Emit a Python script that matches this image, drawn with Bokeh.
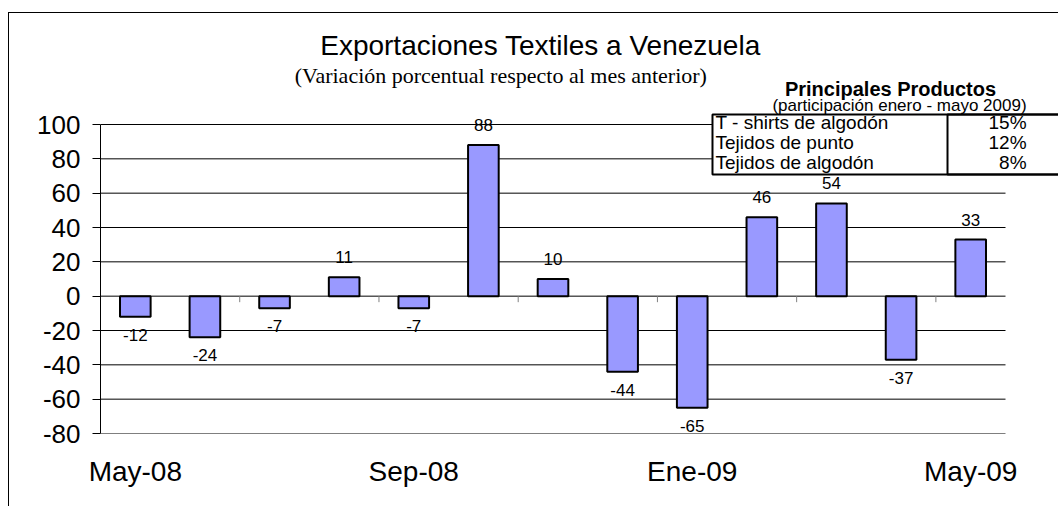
from bokeh.plotting import figure
from bokeh.models import ColumnDataSource, FixedTicker, Label, BoxAnnotation, Range1d
from bokeh.embed import file_html
from bokeh.resources import INLINE
from bokeh.core.properties import value

# ---------------- data ----------------
months = ["May-08", "Jun-08", "Jul-08", "Ago-08", "Sep-08", "Oct-08", "Nov-08",
          "Dic-08", "Ene-09", "Feb-09", "Mar-09", "Abr-09", "May-09"]
variation = [-12, -24, -7, 11, -7, 88, 10, -44, -65, 46, 54, -37, 33]
tick_months = ["May-08", "Sep-08", "Ene-09", "May-09"]
y_ticks = [-80, -60, -40, -20, 0, 20, 40, 60, 80, 100]

products = ["T - shirts de algodón", "Tejidos de punto", "Tejidos de algodón"]
shares = ["15%", "12%", "8%"]

title_text = "Exportaciones Textiles a Venezuela"
subtitle_text = "(Variación porcentual respecto al mes anterior)"
table_title = "Principales Productos"
table_subtitle = "(participación enero - mayo 2009)"

# ---------------- figure ----------------
xs = list(range(len(months)))
cat_lo, cat_hi = -0.5, len(months) - 0.5
y_lo, y_hi = min(y_ticks), max(y_ticks)

W, H = 1050, 494
left_b, bottom_b = 91, 74
frame_w = W - left_b
frame_h = H - bottom_b
px_per_cat = 905 / len(months)          # width of category area in pixels
px_per_y = 309 / (y_hi - y_lo)          # height of value area in pixels

p = figure(width=W, height=H,
           x_range=Range1d(cat_lo, cat_lo + frame_w / px_per_cat),
           y_range=Range1d(y_lo, y_lo + frame_h / px_per_y),
           output_backend="svg", toolbar_location=None,
           min_border_left=left_b, min_border_right=0,
           min_border_top=0, min_border_bottom=bottom_b,
           styles={"margin-left": "8px", "margin-top": "12px",
                   "border-left": "1px solid black",
                   "border-top": "1px solid black"})
p.title.text = ""
p.outline_line_color = None
p.background_fill_color = "white"
p.border_fill_color = "white"

# grid (drawn only over the category area)
p.xgrid.grid_line_color = None
p.ygrid.grid_line_color = None
p.segment(x0=[cat_lo] * len(y_ticks), y0=y_ticks, x1=[cat_hi] * len(y_ticks),
          y1=y_ticks, line_color="black", line_width=1)

# y axis
p.yaxis.ticker = FixedTicker(ticks=y_ticks)
p.yaxis.bounds = (y_lo, y_hi)
p.yaxis.major_label_overrides = {t: str(t) for t in y_ticks}
p.yaxis.axis_line_color = "black"
p.yaxis.axis_line_width = 1
p.yaxis.major_tick_out = 8
p.yaxis.major_tick_in = 0
p.yaxis.major_tick_line_color = "black"
p.yaxis.minor_tick_line_color = None
p.yaxis.major_label_text_font = "Liberation Sans"
p.yaxis.major_label_text_font_size = "26px"
p.yaxis.major_label_text_color = "black"
p.yaxis.major_label_standoff = 12

# x axis (labels only)
tick_pos = [0, 4, 8, 12]
p.xaxis.ticker = FixedTicker(ticks=tick_pos)
p.xaxis.major_label_overrides = {t: m for t, m in zip(tick_pos, tick_months)}
p.xaxis.axis_line_color = None
p.xaxis.major_tick_line_color = None
p.xaxis.minor_tick_line_color = None
p.xaxis.major_label_text_font = "Liberation Sans"
p.xaxis.major_label_text_font_size = "28px"
p.xaxis.major_label_text_color = "black"
p.xaxis.major_label_standoff = 16

# small tick marks on the zero line (every other category boundary)
zero_ticks = [i + 0.5 for i in xs[1:-1:2]]
p.segment(x0=zero_ticks, y0=[0] * len(zero_ticks), x1=zero_ticks,
          y1=[-3.5] * len(zero_ticks), line_color="#808080", line_width=1)

# bars
src = ColumnDataSource(dict(x=xs, v=variation))
p.vbar(x="x", top="v", bottom=0, width=0.44, source=src,
       fill_color="#9999FF", line_color="black", line_width=2)

# data labels
pos = ColumnDataSource(dict(x=[x for x, v in zip(xs, variation) if v >= 0],
                            y=[v for v in variation if v >= 0],
                            t=[str(v) for v in variation if v >= 0]))
neg = ColumnDataSource(dict(x=[x for x, v in zip(xs, variation) if v < 0],
                            y=[v for v in variation if v < 0],
                            t=[str(v) for v in variation if v < 0]))
p.text(x="x", y="y", text="t", source=pos, text_align="center",
       text_baseline="middle", y_offset=-20,
       text_font=value("Liberation Sans"), text_font_size="17px", text_color="black")
p.text(x="x", y="y", text="t", source=neg, text_align="center",
       text_baseline="middle", y_offset=18,
       text_font=value("Liberation Sans"), text_font_size="17px", text_color="black")

# titles
p.add_layout(Label(x=5.82, y=146.0, text=title_text, text_align="center",
                   text_baseline="middle", text_font="Liberation Sans",
                   text_font_size="28px", text_color="black"))
p.add_layout(Label(x=5.25, y=128.3, text=subtitle_text, text_align="center",
                   text_baseline="middle", text_font="Liberation Serif",
                   text_font_size="22px", text_color="black"))

# products table
p.add_layout(BoxAnnotation(left=8.291, right=14.5, top=105.83, bottom=70.87,
                           fill_color="white", fill_alpha=1,
                           line_color="black", line_alpha=1, line_width=2))
p.add_layout(BoxAnnotation(left=11.667, right=14.5, top=105.83, bottom=70.87,
                           fill_alpha=0, line_color="black", line_alpha=1,
                           line_width=2))
p.add_layout(Label(x=10.848, y=120.6, text=table_title, text_align="center",
                   text_baseline="middle", text_font="Liberation Sans",
                   text_font_style="bold", text_font_size="20px", text_color="black"))
p.add_layout(Label(x=10.977, y=111.1, text=table_subtitle, text_align="center",
                   text_baseline="middle", text_font="Liberation Sans",
                   text_font_size="17px", text_color="black"))
row_y = [101.0, 89.5, 78.0]
for prod, sh, yy in zip(products, shares, row_y):
    p.add_layout(Label(x=8.334, y=yy, text=prod, text_align="left",
                       text_baseline="middle", text_font="Liberation Sans",
                       text_font_size="19px", text_color="black"))
    p.add_layout(Label(x=12.802, y=yy, text=sh, text_align="right",
                       text_baseline="middle", text_font="Liberation Sans",
                       text_font_size="19px", text_color="black"))

open("out.html", "w").write(file_html(p, INLINE))
